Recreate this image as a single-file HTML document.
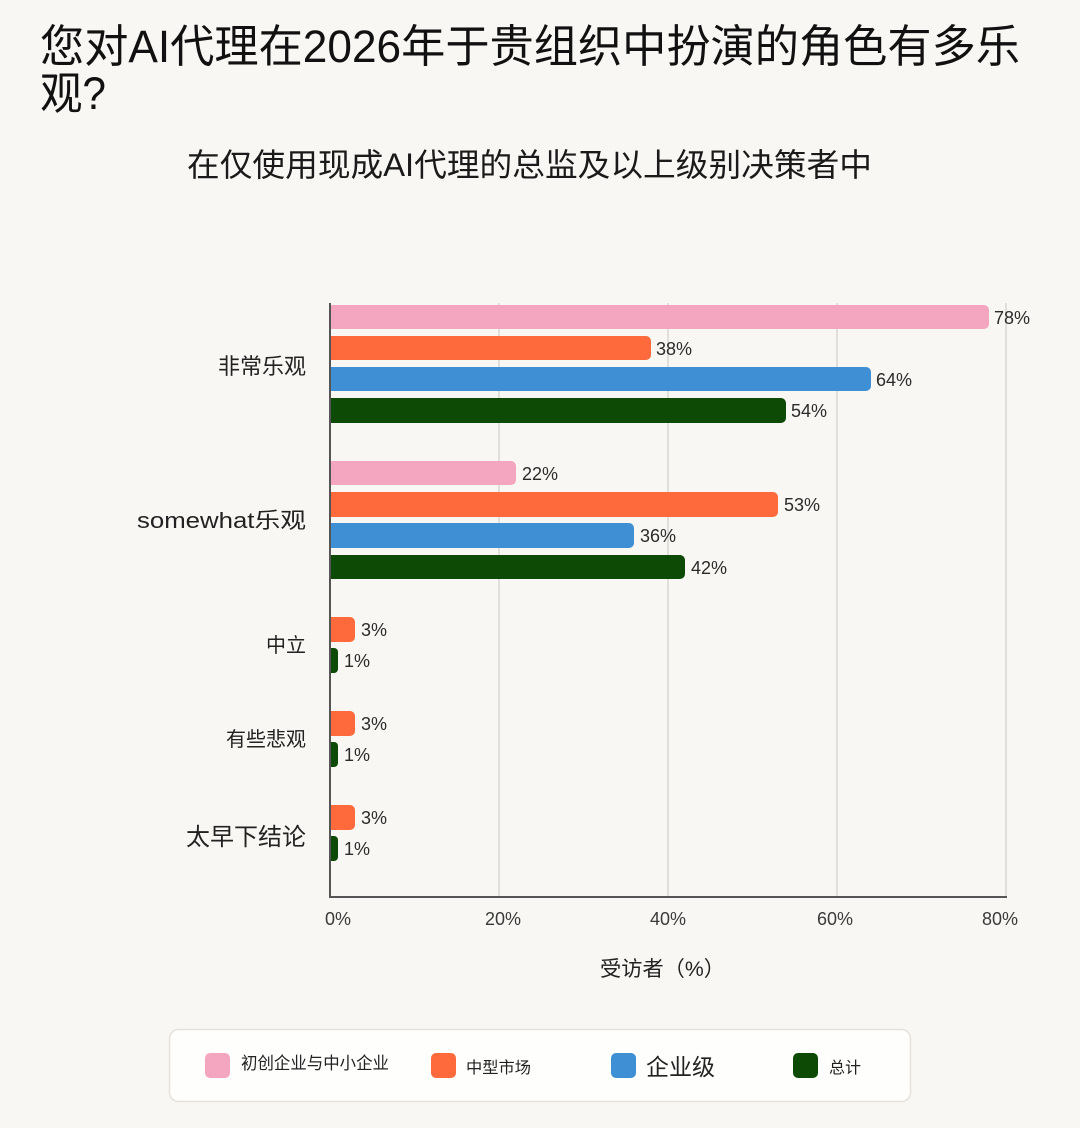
<!DOCTYPE html>
<html>
<head>
<meta charset="utf-8">
<style>
  html, body { margin:0; padding:0; background:#F8F7F4; }
  body { width:1080px; height:1128px; overflow:hidden; }
  svg { display:block; }
  text { font-family: "Liberation Sans", "Noto Sans CJK SC", sans-serif; }
</style>
</head>
<body>
<svg width="1080" height="1128" viewBox="0 0 1080 1128" xmlns="http://www.w3.org/2000/svg">
  <rect x="0" y="0" width="1080" height="1128" fill="#F8F7F4"/>

  <!-- Title -->
  <text x="40" y="62" font-size="45" fill="#111" textLength="980" lengthAdjust="spacingAndGlyphs">您对AI代理在2026年于贵组织中扮演的角色有多乐</text>
  <text x="40" y="109" font-size="45" fill="#111" textLength="66" lengthAdjust="spacingAndGlyphs">观?</text>

  <!-- Subtitle -->
  <text x="187" y="176" font-size="32" fill="#1a1a1a" textLength="685" lengthAdjust="spacingAndGlyphs">在仅使用现成AI代理的总监及以上级别决策者中</text>

  <!-- Gridlines -->
  <g stroke="#D9D7D2" stroke-width="1.5">
    <line x1="499" y1="303" x2="499" y2="897"/>
    <line x1="668" y1="303" x2="668" y2="897"/>
    <line x1="837" y1="303" x2="837" y2="897"/>
    <line x1="1006" y1="303" x2="1006" y2="897"/>
  </g>

  <!-- Bars -->
  <g>
    <path d="M330 305 H984 a5 5 0 0 1 5 5 V324 a5 5 0 0 1 -5 5 H330 Z" fill="#F4A6C1"/>
    <path d="M330 336 H646 a5 5 0 0 1 5 5 V355 a5 5 0 0 1 -5 5 H330 Z" fill="#FE6A3C"/>
    <path d="M330 367 H866 a5 5 0 0 1 5 5 V386 a5 5 0 0 1 -5 5 H330 Z" fill="#3E8FD3"/>
    <path d="M330 398 H781 a5 5 0 0 1 5 5 V418 a5 5 0 0 1 -5 5 H330 Z" fill="#0D4A06"/>
    <path d="M330 461 H511 a5 5 0 0 1 5 5 V480 a5 5 0 0 1 -5 5 H330 Z" fill="#F4A6C1"/>
    <path d="M330 492 H773 a5 5 0 0 1 5 5 V512 a5 5 0 0 1 -5 5 H330 Z" fill="#FE6A3C"/>
    <path d="M330 523 H629 a5 5 0 0 1 5 5 V543 a5 5 0 0 1 -5 5 H330 Z" fill="#3E8FD3"/>
    <path d="M330 555 H680 a5 5 0 0 1 5 5 V574 a5 5 0 0 1 -5 5 H330 Z" fill="#0D4A06"/>
    <path d="M330 617 H350 a5 5 0 0 1 5 5 V637 a5 5 0 0 1 -5 5 H330 Z" fill="#FE6A3C"/>
    <path d="M330 648 H334 a4 4 0 0 1 4 4 V669 a4 4 0 0 1 -4 4 H330 Z" fill="#0D4A06"/>
    <path d="M330 711 H350 a5 5 0 0 1 5 5 V731 a5 5 0 0 1 -5 5 H330 Z" fill="#FE6A3C"/>
    <path d="M330 742 H334 a4 4 0 0 1 4 4 V763 a4 4 0 0 1 -4 4 H330 Z" fill="#0D4A06"/>
    <path d="M330 805 H350 a5 5 0 0 1 5 5 V825 a5 5 0 0 1 -5 5 H330 Z" fill="#FE6A3C"/>
    <path d="M330 836 H334 a4 4 0 0 1 4 4 V857 a4 4 0 0 1 -4 4 H330 Z" fill="#0D4A06"/>
  </g>

  <!-- Axes -->
  <line x1="330" y1="303" x2="330" y2="898" stroke="#555" stroke-width="2"/>
  <line x1="329" y1="897" x2="1007" y2="897" stroke="#555" stroke-width="2"/>

  <!-- Value labels -->
  <g font-size="18" fill="#2b2b2b">
    <text x="994" y="324">78%</text>
    <text x="656" y="355">38%</text>
    <text x="876" y="386">64%</text>
    <text x="791" y="417">54%</text>
    <text x="522" y="480">22%</text>
    <text x="784" y="511">53%</text>
    <text x="640" y="542">36%</text>
    <text x="691" y="574">42%</text>
    <text x="361" y="636">3%</text>
    <text x="344" y="667">1%</text>
    <text x="361" y="730">3%</text>
    <text x="344" y="761">1%</text>
    <text x="361" y="824">3%</text>
    <text x="344" y="855">1%</text>
  </g>

  <!-- Y category labels -->
  <g fill="#222" text-anchor="end">
    <text x="306" y="374" font-size="22">非常乐观</text>
    <text x="306" y="528" font-size="22" textLength="169" lengthAdjust="spacingAndGlyphs">somewhat乐观</text>
    <text x="306" y="652" font-size="20">中立</text>
    <text x="306" y="746" font-size="20">有些悲观</text>
    <text x="306" y="845" font-size="24">太早下结论</text>
  </g>

  <!-- X tick labels -->
  <g font-size="18" fill="#3a3a3a" text-anchor="middle">
    <text x="338" y="925">0%</text>
    <text x="503" y="925">20%</text>
    <text x="668" y="925">40%</text>
    <text x="835" y="925">60%</text>
    <text x="1000" y="925">80%</text>
  </g>

  <!-- X axis title -->
  <text x="600" y="976" font-size="21" fill="#222" textLength="125" lengthAdjust="spacingAndGlyphs">受访者（%）</text>

  <!-- Legend -->
  <rect x="169.5" y="1029.5" width="741" height="72" rx="9" ry="9" fill="#FEFEFD" stroke="#E6E1D9" stroke-width="1.5"/>
  <rect x="205" y="1053" width="25" height="25" rx="5" fill="#F4A6C1"/>
  <text x="241" y="1069" font-size="17" fill="#222" textLength="148" lengthAdjust="spacingAndGlyphs">初创企业与中小企业</text>
  <rect x="431" y="1053" width="25" height="25" rx="5" fill="#FE6A3C"/>
  <text x="466" y="1073" font-size="16" fill="#222" textLength="65" lengthAdjust="spacingAndGlyphs">中型市场</text>
  <rect x="611" y="1053" width="25" height="25" rx="5" fill="#3E8FD3"/>
  <text x="646" y="1075" font-size="23" fill="#222" textLength="69" lengthAdjust="spacingAndGlyphs">企业级</text>
  <rect x="793" y="1053" width="25" height="25" rx="5" fill="#0D4A06"/>
  <text x="829" y="1073" font-size="16" fill="#222" textLength="32" lengthAdjust="spacingAndGlyphs">总计</text>
</svg>
</body>
</html>
